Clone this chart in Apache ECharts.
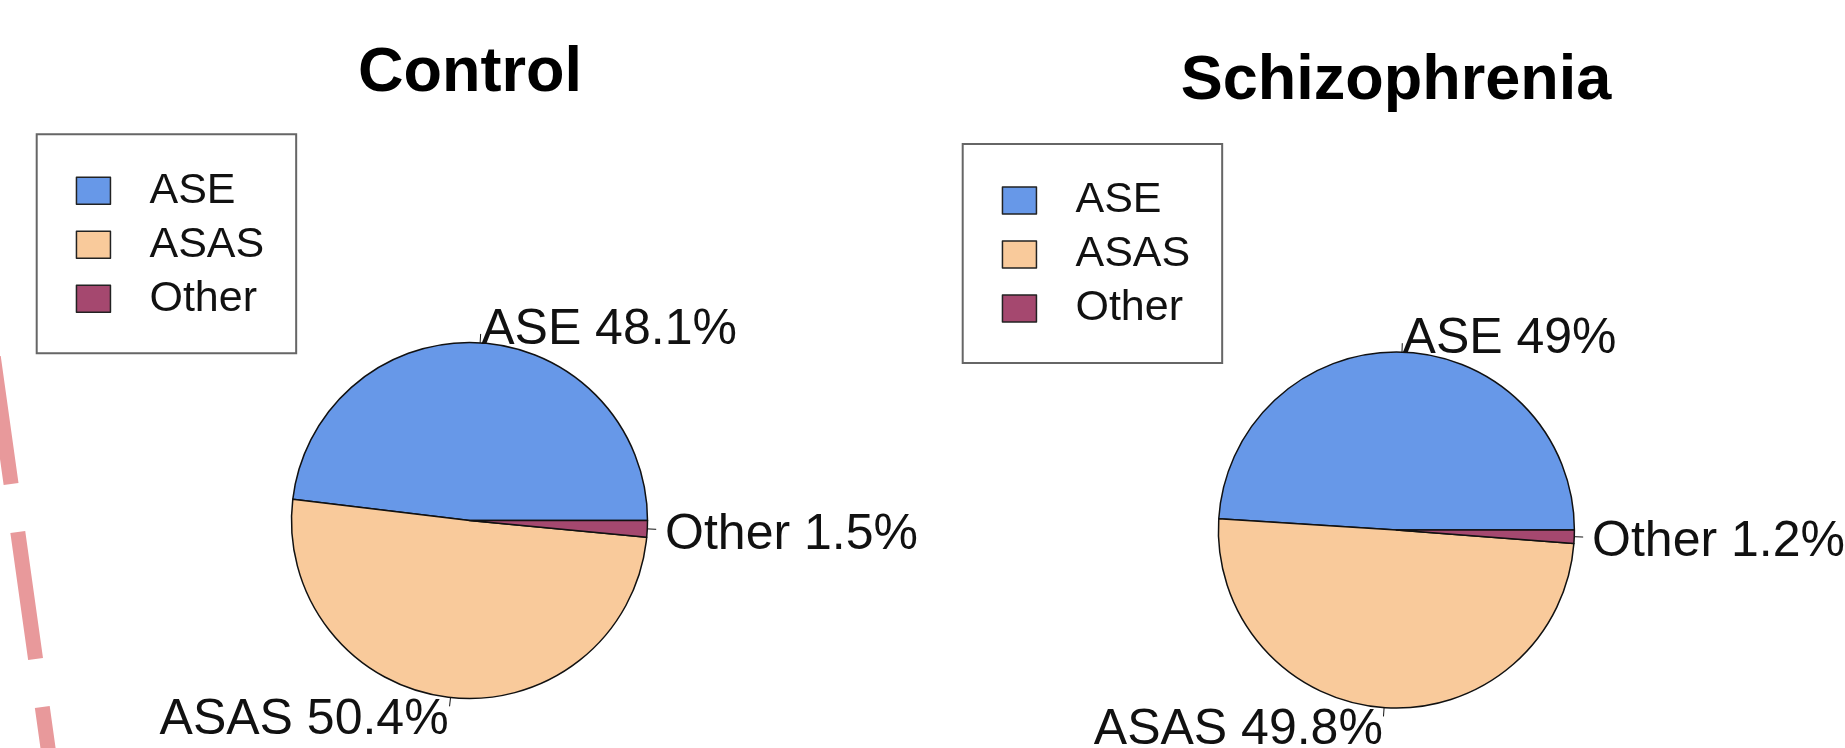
<!DOCTYPE html>
<html>
<head>
<meta charset="utf-8">
<script src="https://cdn.jsdelivr.net/npm/echarts@6/dist/echarts.min.js"></script>
<style>
  html, body { margin: 0; padding: 0; background: #fff; }
  #chart { width: 1845px; height: 748px; }
</style>
</head>
<body>
<div id="chart"></div>
<script>
const categories = ["ASE", "ASAS", "Other"];
const groupTitles = ["Control", "Schizophrenia"];
const controlPct = [48.1, 50.4, 1.5];
const schizoPct = [49, 49.8, 1.2];

const sliceColors = ["#6798e8", "#f9ca9b", "#a5486f"];
const font = "Liberation Sans, Arial, Helvetica, sans-serif";
const ink = "#111";
const R = 178;

const chart = echarts.init(document.getElementById("chart"));

// R's pie() draws the tick from r to 1.05r and sets the text at 1.1r.
// ECharts puts the text at the tick end, so shift it once more along the tick
// (R's text also sits a few px low) and keep the short tick as it was.
function rStyleLabel(p) {
  const pts = p.labelLinePoints;
  if (!pts) {
    return {};
  }
  return {
    dx: pts[1][0] - pts[0][0],
    dy: pts[1][1] - pts[0][1] + 5,
    labelLinePoints: pts.map((q) => q.slice())
  };
}

function pieSeries(values, center) {
  return {
    type: "pie",
    center,
    radius: R,
    startAngle: 0,
    clockwise: false,
    avoidLabelOverlap: false,
    silent: true,
    data: values.map((v, i) => ({ name: categories[i], value: v })),
    itemStyle: { borderColor: ink, borderWidth: 1.5 },
    label: {
      show: true,
      position: "outside",
      formatter: "{b} {c}%",
      fontFamily: font,
      fontSize: 50,
      color: ink,
      distanceToLabelLine: 0
    },
    labelLine: {
      show: true,
      length: 0.05 * R,
      length2: 0,
      lineStyle: { color: ink, width: 1 }
    },
    labelLayout: rStyleLabel,
    emphasis: { disabled: true }
  };
}

function legendBox(left, top) {
  return {
    orient: "vertical",
    left,
    top,
    data: categories,
    selectedMode: false,
    icon: "rect",
    itemWidth: 34,
    itemHeight: 27,
    itemGap: 11,
    padding: [35, 32, 33, 39],
    borderColor: "#666",
    borderWidth: 2,
    itemStyle: { borderColor: "#222", borderWidth: 1.5 },
    textStyle: { fontFamily: font, fontSize: 43, lineHeight: 43, color: ink, padding: [0, 0, 0, 34] }
  };
}

function titleAt(text, x, top) {
  return {
    text,
    left: x,
    top,
    textAlign: "center",
    padding: 0,
    textStyle: { fontFamily: font, fontSize: 63, fontWeight: "bold", color: "#000" }
  };
}

chart.setOption({
  animation: false,
  color: sliceColors,
  title: [
    titleAt(groupTitles[0], 470, 42),
    titleAt(groupTitles[1], 1396, 50)
  ],
  legend: [
    legendBox(36.7, 134.3),
    legendBox(962.7, 144)
  ],
  graphic: [{
    type: "line",
    silent: true,
    shape: { x1: -6.7, y1: 357, x2: 55.3, y2: 800 },
    style: { stroke: "#e8999b", lineWidth: 15, lineDash: [128.2, 48.5], lineCap: "butt" }
  }],
  series: [
    pieSeries(controlPct, [469.5, 520.5]),
    pieSeries(schizoPct, [1396.4, 530])
  ]
});
</script>
</body>
</html>
